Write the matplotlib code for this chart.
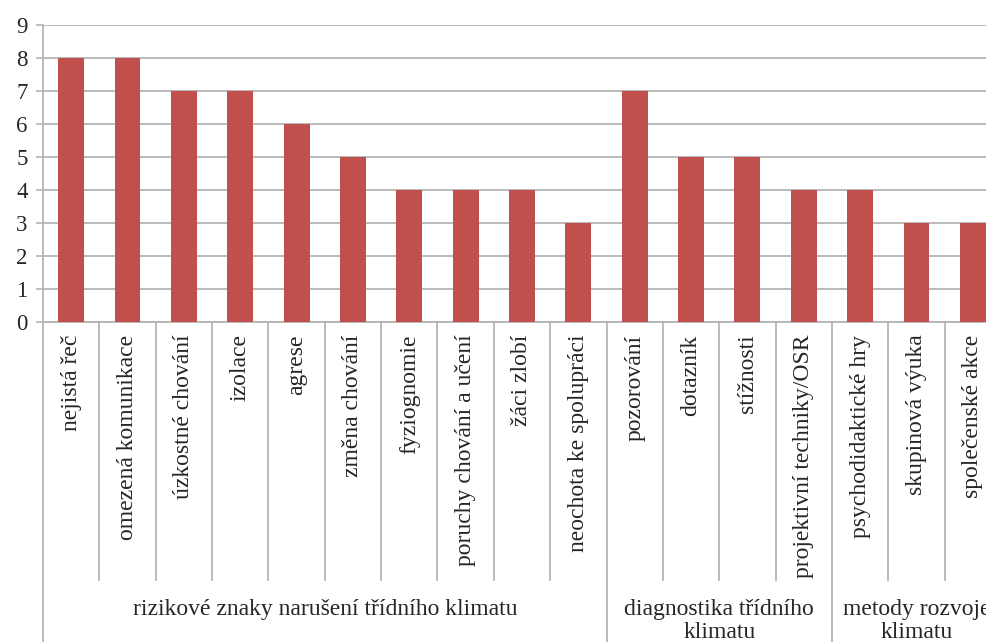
import matplotlib.pyplot as plt

# Data
categories = ['nejistá řeč', 'omezená komunikace', 'úzkostné chování', 'izolace', 'agrese',
              'změna chování', 'fyziognomie', 'poruchy chování a učení', 'žáci zlobí',
              'neochota ke spolupráci',
              'pozorování', 'dotazník', 'stížnosti', 'projektivní techniky/OSR',
              'psychodidaktické hry', 'skupinová výuka', 'společenské akce']
values = [8, 8, 7, 7, 6, 5, 4, 4, 4, 3,
          7, 5, 5, 4,
          4, 3, 3]
groups = ['rizikové znaky narušení třídního klimatu',
          'diagnostika třídního\nklimatu',
          'metody rozvoje\nklimatu']
group_sizes = [10, 4, 3]

plt.rcParams['font.family'] = ['Liberation Serif', 'DejaVu Serif']
text_color = '#262626'
line_color = '#b4b4b4'

fig = plt.figure(figsize=(9.87, 6.42), dpi=100)
W, H = 987, 642
left, right, top, bottom = 43, 1001, 25, 322
ax = fig.add_axes([left / W, 1 - bottom / H, (right - left) / W, (bottom - top) / H])

x = list(range(len(categories)))
ax.bar(x, values, width=0.46, color='#c0504d', zorder=3)

ax.set_xlim(-0.5, len(categories) - 0.5)
ax.set_ylim(0, 9)
ax.set_yticks(range(10))
ax.yaxis.grid(True, color=line_color, linewidth=1.3, zorder=0)
ax.tick_params(axis='y', length=5, width=1.2, color=line_color, labelsize=16.5,
               labelcolor=text_color, pad=6)

ax.set_xticks(x)
ax.set_xticklabels(categories, rotation=90, fontsize=17, color=text_color, va='top')
ax.tick_params(axis='x', length=0, pad=9)

for s in ['top', 'right']:
    ax.spines[s].set_visible(False)
for s in ['left', 'bottom']:
    ax.spines[s].set_color(line_color)
    ax.spines[s].set_linewidth(1.3)

# category dividers below the axis
trans = ax.get_xaxis_transform()
inner_end = (bottom - 580) / (bottom - top)
outer_end = (bottom - 700) / (bottom - top)
group_edges = [-0.5]
for g in group_sizes:
    group_edges.append(group_edges[-1] + g)
for i in range(len(categories) + 1):
    xe = i - 0.5
    y_end = outer_end if xe in group_edges else inner_end
    ax.plot([xe, xe], [0, y_end], color=line_color, linewidth=1.3,
            transform=trans, clip_on=False)

# group labels
label_y = (bottom - 599) / (bottom - top)
for name, a, b in zip(groups, group_edges[:-1], group_edges[1:]):
    ax.text((a + b) / 2, label_y, name, transform=trans, ha='center', va='top',
            fontsize=17, color=text_color, linespacing=1.1, clip_on=False)

fig.savefig('out.png', dpi=100)
